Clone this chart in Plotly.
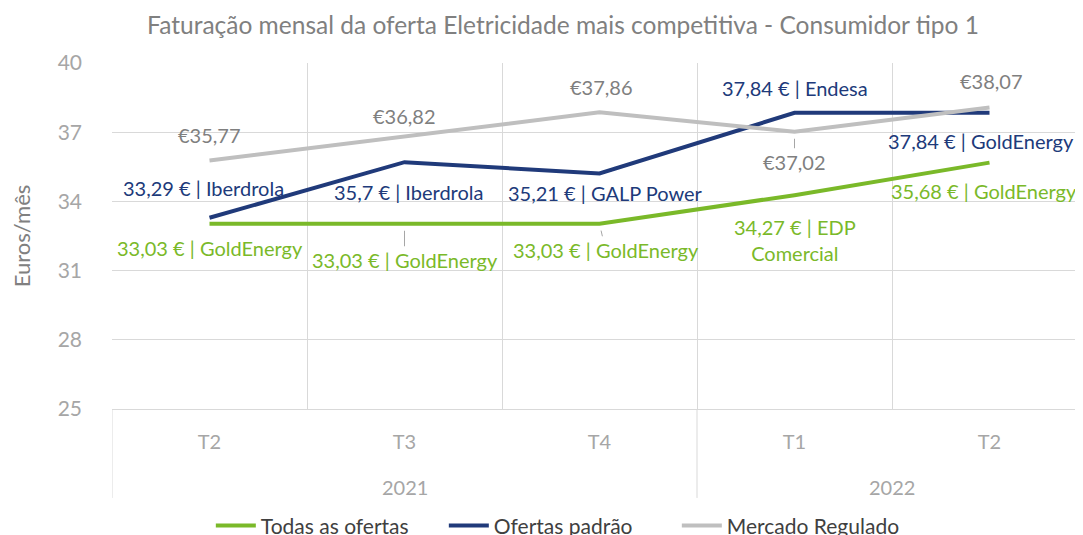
import plotly.graph_objects as go

# ---- data ----
years = ["2021", "2021", "2021", "2022", "2022"]
quarters = ["T2", "T3", "T4", "T1", "T2"]
todas = [33.03, 33.03, 33.03, 34.27, 35.68]
padrao = [33.29, 35.7, 35.21, 37.84, 37.84]
regulado = [35.77, 36.82, 37.86, 37.02, 38.07]
todas_labels = ["33,03 € | GoldEnergy", "33,03 € | GoldEnergy", "33,03 € | GoldEnergy",
                "34,27 € | EDP<br>Comercial", "35,68 € | GoldEnergy"]
padrao_labels = ["33,29 € | Iberdrola", "35,7 € | Iberdrola", "35,21 € | GALP Power",
                 "37,84 € | Endesa", "37,84 € | GoldEnergy"]
regulado_labels = ["€35,77", "€36,82", "€37,86", "€37,02", "€38,07"]
series_names = ["Todas as ofertas", "Ofertas padrão", "Mercado Regulado"]

# ---- style ----
GREEN = "#7AB929"
NAVY = "#203A7A"
GRAY = "#BFBFBF"
GRAY_TXT = "#7F7F7F"
GRID = "#D9D9D9"
FONT = "Lato"

keys = [f"{y} {q}" for y, q in zip(years, quarters)]

fig = go.Figure()
for vals, name, col in [(todas, series_names[0], GREEN),
                        (padrao, series_names[1], NAVY),
                        (regulado, series_names[2], GRAY)]:
    fig.add_trace(go.Scatter(x=keys, y=vals, name=name, mode="lines",
                             line=dict(color=col, width=4)))

# label placement (pixel offsets: dx, dy ; dy positive = up), leader flag
todas_pos = [(0, -24, False), (0, -36, True), (6, -26, True), (0, -45, False), (-6, -28, False)]
padrao_pos = [(-6, 30, False), (4, -30, False), (6, -20, False), (0, 25, False), (-9, -28, False)]
reg_pos = [(0, 26, False), (0, 20, False), (2, 25, False), (0, -30, True), (2, 27, False)]

anns = []
for vals, labels, pos, col in [(todas, todas_labels, todas_pos, GREEN),
                               (padrao, padrao_labels, padrao_pos, NAVY),
                               (regulado, regulado_labels, reg_pos, GRAY_TXT)]:
    for k, v, t, (dx, dy, lead) in zip(keys, vals, labels, pos):
        if lead:
            anns.append(dict(x=k, y=v, xref="x", yref="y", text=t, showarrow=True,
                             arrowhead=0, arrowwidth=1, arrowcolor="#A6A6A6",
                             ax=dx, ay=-dy, standoff=7,
                             font=dict(family=FONT, size=20, color=col)))
        else:
            anns.append(dict(x=k, y=v, xref="x", yref="y", text=t, showarrow=False,
                             xshift=dx, yshift=dy,
                             font=dict(family=FONT, size=20, color=col)))

# year group labels and dividers
shapes = []
groups = []
for i, y in enumerate(years):
    if not groups or groups[-1][0] != y:
        groups.append([y, i, i])
    else:
        groups[-1][2] = i
for y, a, b in groups:
    anns.append(dict(x=(a + b) / 2, y=0, xref="x", yref="paper", text=y, showarrow=False,
                     yanchor="middle", yshift=-78,
                     font=dict(family=FONT, size=20, color="#A6A6A6")))
    shapes.append(dict(type="line", xref="x", yref="paper", x0=a - 0.5, x1=a - 0.5,
                       y0=0, y1=-0.257, line=dict(color=GRID, width=1)))

fig.update_layout(
    width=1083, height=535,
    margin=dict(l=104, r=4, t=55, b=134, autoexpand=False),
    paper_bgcolor="white", plot_bgcolor="white",
    font=dict(family=FONT, color=GRAY_TXT),
    title=dict(text="Faturação mensal da oferta Eletricidade mais competitiva - Consumidor tipo 1",
               x=0.5125, xanchor="center", xref="container", y=0.967, yanchor="middle",
               font=dict(family=FONT, size=24.5, color="#808080")),
    showlegend=True,
    legend=dict(orientation="h", x=0.51, xanchor="center", xref="container",
                y=0.032, yref="container", yanchor="middle",
                font=dict(family=FONT, size=21, color="#404040"),
                itemwidth=40, entrywidth=178, entrywidthmode="pixels",
                traceorder="normal"),
    annotations=anns,
    shapes=shapes,
)
fig.update_yaxes(range=[25, 40], tickvals=[25, 28, 31, 34, 37, 40], automargin=False,
                 showgrid=True, gridcolor=GRID, gridwidth=1, zeroline=False,
                 showline=False, ticks="", ticklabelstandoff=29,
                 tickfont=dict(family=FONT, size=21, color="#A6A6A6"),
                 title=dict(text="Euros/mês", font=dict(family=FONT, size=22, color="#808080"),
                            standoff=28))
fig.update_xaxes(type="category", categoryorder="array", categoryarray=keys, automargin=False,
                 tickvals=keys, ticktext=quarters, tickson="boundaries",
                 range=[-0.5, 4.5], showgrid=True,
                 gridcolor=GRID, gridwidth=1, showline=True, linecolor=GRID,
                 ticks="", ticklabelstandoff=15,
                 tickfont=dict(family=FONT, size=20, color="#A6A6A6"))

fig.write_html("out.html")
